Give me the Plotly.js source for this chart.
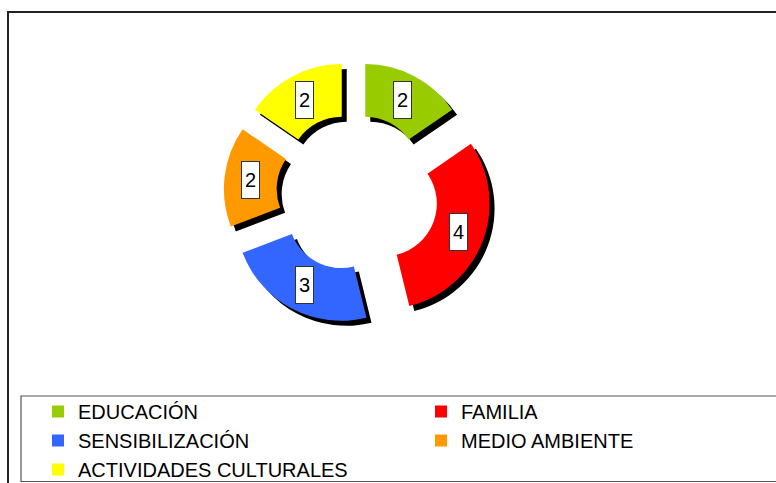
<!DOCTYPE html>
<html>
<head>
<meta charset="utf-8">
<script src="https://cdn.plot.ly/plotly-3.0.1.min.js"></script>
<style>
  html, body { margin: 0; padding: 0; background: #fff; overflow: hidden; }
  #chart { width: 840px; height: 483px; }
</style>
</head>
<body>
<div id="chart"></div>
<script>
// datos
var categorias = ['EDUCACIÓN', 'FAMILIA', 'SENSIBILIZACIÓN', 'MEDIO AMBIENTE', 'ACTIVIDADES CULTURALES'];
var valores = [2, 4, 3, 2, 2];
var colores = ['#99CC00', '#FF0000', '#3366FF', '#FF9900', '#FFFF00'];

// la figura es algo más ancha que la ventana: el marco y la leyenda
// se salen por la derecha como en el original
var W = 840, H = 483;
var cx = 353.5, cy = 192;     // centro del anillo (px)
var R = 105.5;                // radio exterior
var pulls = [0.24, 0.31, 0.25, 0.23, 0.24];
var maxPull = Math.max.apply(null, pulls);
var hole = 0.5;
var sombra = 5;               // desplazamiento de la sombra

function px2x(x) { return x / W; }
function px2y(y) { return 1 - y / H; }

// dominio cuadrado para que el radio salga R (plotly: r = lado / (2 + 2*maxPull))
function dominio(x, y) {
  var half = R * (1 + maxPull);
  return {x: [px2x(x - half), px2x(x + half)], y: [px2y(y + half), px2y(y - half)]};
}

var negros = valores.map(function () { return '#000000'; });

var traceSombra = {
  type: 'pie',
  labels: categorias,
  values: valores,
  sort: false,
  direction: 'clockwise',
  rotation: 0,
  hole: hole,
  pull: pulls,
  domain: dominio(cx + sombra, cy + sombra),
  marker: {colors: negros, line: {width: 0}},
  textinfo: 'none',
  hoverinfo: 'skip',
  showlegend: false
};

var traceAnillo = {
  type: 'pie',
  labels: categorias,
  values: valores,
  sort: false,
  direction: 'clockwise',
  rotation: 0,
  hole: hole,
  pull: pulls,
  domain: dominio(cx, cy),
  marker: {colors: colores, line: {width: 0}},
  textinfo: 'none',
  hoverinfo: 'label+value'
};

// etiquetas con caja blanca en el centro de cada sector
var total = valores.reduce(function (a, b) { return a + b; }, 0);
var acum = 0;
var etiquetas = [];
for (var i = 0; i < valores.length; i++) {
  var medio = (acum + valores[i] / 2) / total * 2 * Math.PI;
  acum += valores[i];
  var dist = R * pulls[i] + R * (1 + hole) / 2;
  etiquetas.push({
    xref: 'paper', yref: 'paper',
    x: px2x(cx + dist * Math.sin(medio)),
    y: px2y(cy - dist * Math.cos(medio)),
    xanchor: 'center', yanchor: 'middle',
    text: String(valores[i]),
    showarrow: false,
    font: {family: 'Liberation Sans, Arial, sans-serif', size: 20, color: '#000'},
    bgcolor: '#ffffff',
    bordercolor: '#333333',
    borderwidth: 1,
    borderpad: 0,
    width: 17,
    height: 36
  });
}

var layout = {
  width: W, height: H,
  margin: {l: 0, r: 0, t: 0, b: 0, autoexpand: false},
  paper_bgcolor: '#ffffff',
  showlegend: true,
  legend: {
    orientation: 'h',
    x: px2x(38), xanchor: 'left',
    y: px2y(392), yanchor: 'top',
    entrywidth: 338,
    traceorder: 'normal',
    font: {family: 'Liberation Sans, Arial, sans-serif', size: 20, color: '#000'},
    bgcolor: 'rgba(0,0,0,0)',
    borderwidth: 0
  },
  annotations: etiquetas,
  shapes: [
    // marco exterior (solo arriba e izquierda quedan dentro de la ventana)
    {type: 'path', xref: 'paper', yref: 'paper',
     path: 'M' + px2x(8) + ',' + px2y(H + 5) + 'L' + px2x(8) + ',' + px2y(12) + 'L' + px2x(W + 5) + ',' + px2y(12),
     line: {color: '#222222', width: 2}},
    // caja de la leyenda
    {type: 'path', xref: 'paper', yref: 'paper',
     path: 'M' + px2x(W + 5) + ',' + px2y(396) + 'L' + px2x(21) + ',' + px2y(396) +
           'L' + px2x(21) + ',' + px2y(481.5) + 'L' + px2x(W + 5) + ',' + px2y(481.5),
     line: {color: '#555555', width: 1.2}}
  ]
};

Plotly.newPlot('chart', [traceSombra, traceAnillo], layout, {displayModeBar: false, staticPlot: true});
</script>
</body>
</html>
